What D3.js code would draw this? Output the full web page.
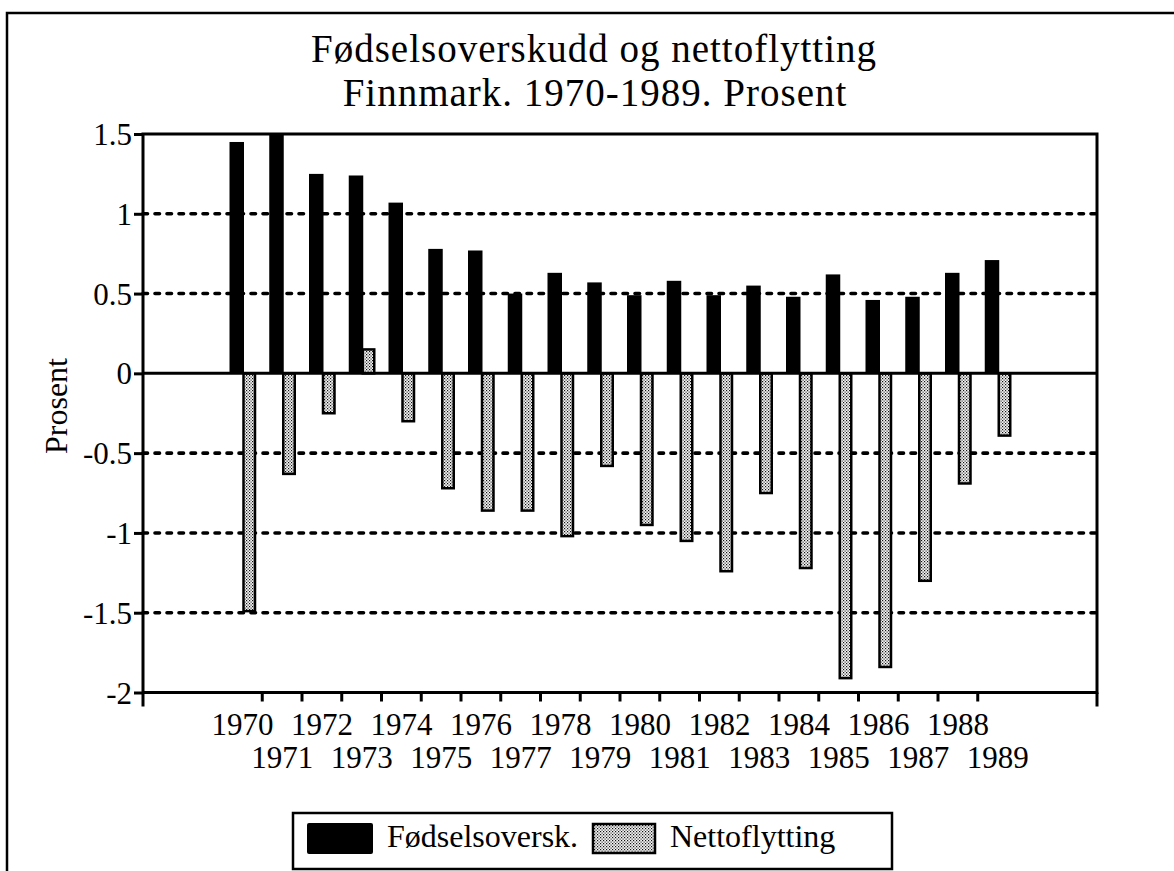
<!DOCTYPE html>
<html>
<head>
<meta charset="utf-8">
<script src="https://cdn.jsdelivr.net/npm/d3@7"></script>
<style>
  html, body { margin: 0; padding: 0; background: #fff; }
  svg { display: block; }
  text { font-family: "Liberation Serif", "Times New Roman", Times, serif; fill: #000; }
</style>
</head>
<body>
<svg id="chart" width="1174" height="871"></svg>
<script>
// ---- data ----
const years = [1970,1971,1972,1973,1974,1975,1976,1977,1978,1979,1980,1981,1982,1983,1984,1985,1986,1987,1988,1989];
const fodselsoverskudd = [1.45,1.5,1.25,1.24,1.07,0.78,0.77,0.50,0.63,0.57,0.49,0.58,0.49,0.55,0.48,0.62,0.46,0.48,0.63,0.71];
const nettoflytting = [-1.49,-0.63,-0.25,0.15,-0.30,-0.72,-0.86,-0.86,-1.02,-0.58,-0.95,-1.05,-1.24,-0.75,-1.22,-1.91,-1.84,-1.30,-0.69,-0.39];
const yTicks = [1.5,1,0.5,0,-0.5,-1,-1.5,-2];
const gridValues = [1,0.5,-0.5,-1,-1.5];
const titleLines = ["Fødselsoverskudd og nettoflytting", "Finnmark. 1970-1989. Prosent"];
const yLabel = "Prosent";
const legendLabels = ["Fødselsoversk.", "Nettoflytting"];

// ---- layout ----
const svg = d3.select("#chart");
const plot = {left: 143, right: 1097, top: 134, bottom: 692.5};
const slot = (plot.right - plot.left) / 24;

const x = d3.scaleBand()
  .domain(years)
  .range([plot.left + 2 * slot, plot.left + 22 * slot])
  .paddingInner(0).paddingOuter(0);
const bw = x.bandwidth();
const y = d3.scaleLinear().domain([-2, 1.5]).range([plot.bottom, plot.top]);

// pattern for the dotted grey
const defs = svg.append("defs");
const pat = defs.append("pattern").attr("id", "dots")
  .attr("patternUnits", "userSpaceOnUse").attr("width", 3).attr("height", 3);
pat.append("rect").attr("width", 3).attr("height", 3).attr("fill", "#f4f4f4");
pat.append("rect").attr("x", 0).attr("y", 0).attr("width", 1.2).attr("height", 1.2).attr("fill", "#111");
pat.append("rect").attr("x", 1.5).attr("y", 1.5).attr("width", 1.2).attr("height", 1.2).attr("fill", "#333");

svg.append("rect").attr("width", 1174).attr("height", 871).attr("fill", "#fff");

// outer frame (left and top visible)
svg.append("path").attr("d", "M7,871 L7,13 L1174,13")
  .attr("fill", "none").attr("stroke", "#000").attr("stroke-width", 2.5);

// title
svg.append("text").attr("x", 594).attr("y", 62).attr("text-anchor", "middle")
  .attr("font-size", 39).attr("letter-spacing", 1).text(titleLines[0]);
svg.append("text").attr("x", 595).attr("y", 105.5).attr("text-anchor", "middle")
  .attr("font-size", 39).attr("letter-spacing", 1).text(titleLines[1]);

// gridlines
svg.append("g").selectAll("line").data(gridValues).join("line")
  .attr("x1", plot.left).attr("x2", plot.right)
  .attr("y1", d => y(d)).attr("y2", d => y(d))
  .attr("stroke", "#000").attr("stroke-width", 3.6)
  .attr("stroke-linecap", "round").attr("stroke-dasharray", "4.5,7.5");

// bars: Fødselsoverskudd (black)
svg.append("g").selectAll("rect").data(years).join("rect")
  .attr("x", d => x(d) + 7)
  .attr("width", 14.5)
  .attr("y", (d, i) => y(Math.max(0, fodselsoverskudd[i])))
  .attr("height", (d, i) => Math.abs(y(fodselsoverskudd[i]) - y(0)))
  .attr("fill", "#000");

// bars: Nettoflytting (dotted grey with outline)
svg.append("g").selectAll("rect").data(years).join("rect")
  .attr("x", d => x(d) + 21)
  .attr("width", 11.5)
  .attr("y", (d, i) => y(Math.max(0, nettoflytting[i])))
  .attr("height", (d, i) => Math.abs(y(nettoflytting[i]) - y(0)))
  .attr("fill", "url(#dots)")
  .attr("stroke", "#000").attr("stroke-width", 2.5);

// zero line
svg.append("line").attr("x1", plot.left).attr("x2", plot.right)
  .attr("y1", y(0)).attr("y2", y(0))
  .attr("stroke", "#000").attr("stroke-width", 3);

// plot frame
svg.append("rect").attr("x", plot.left).attr("y", plot.top)
  .attr("width", plot.right - plot.left).attr("height", plot.bottom - plot.top)
  .attr("fill", "none").attr("stroke", "#000").attr("stroke-width", 3);

// y axis
const yAxis = d3.axisLeft(y).tickValues(yTicks).tickFormat(d => String(d))
  .tickSize(9).tickPadding(2);
const gy = svg.append("g").attr("transform", `translate(${plot.left},0)`).call(yAxis);
gy.select(".domain").remove();
gy.selectAll(".tick line").attr("stroke", "#000").attr("stroke-width", 3);
gy.selectAll(".tick text").attr("font-size", 31).attr("font-family", "Liberation Serif, serif")
  .attr("fill", "#000").attr("dy", "0.34em");

// x ticks at year boundaries, plus ends
const tickPos = years.slice(0, -1).map(d => x(d) + bw);
svg.append("g").selectAll("line").data(tickPos).join("line")
  .attr("x1", d => d).attr("x2", d => d)
  .attr("y1", plot.bottom).attr("y2", plot.bottom + 9)
  .attr("stroke", "#000").attr("stroke-width", 3);
svg.append("g").selectAll("line").data([plot.left, plot.right]).join("line")
  .attr("x1", d => d).attr("x2", d => d)
  .attr("y1", plot.bottom).attr("y2", plot.bottom + 14)
  .attr("stroke", "#000").attr("stroke-width", 3);

// x labels, staggered
svg.append("g").selectAll("text").data(years).join("text")
  .attr("x", d => x(d) + bw / 2)
  .attr("y", (d, i) => i % 2 === 0 ? 735 : 768)
  .attr("text-anchor", "middle").attr("font-size", 31)
  .text(d => d);

// y label
svg.append("text").attr("transform", "translate(67,406) rotate(-90)")
  .attr("text-anchor", "middle").attr("font-size", 32).text(yLabel);

// legend
const lg = svg.append("g");
lg.append("rect").attr("x", 293).attr("y", 813).attr("width", 599).attr("height", 56)
  .attr("fill", "#fff").attr("stroke", "#000").attr("stroke-width", 2.5);
lg.append("rect").attr("x", 307).attr("y", 823).attr("width", 66).attr("height", 31)
  .attr("rx", 2).attr("fill", "#000");
lg.append("text").attr("x", 387).attr("y", 847).attr("font-size", 32).text(legendLabels[0]);
lg.append("rect").attr("x", 593).attr("y", 824).attr("width", 62).attr("height", 29)
  .attr("fill", "url(#dots)").attr("stroke", "#000").attr("stroke-width", 2.5);
lg.append("text").attr("x", 670).attr("y", 847).attr("font-size", 32).text(legendLabels[1]);
</script>
</body>
</html>
